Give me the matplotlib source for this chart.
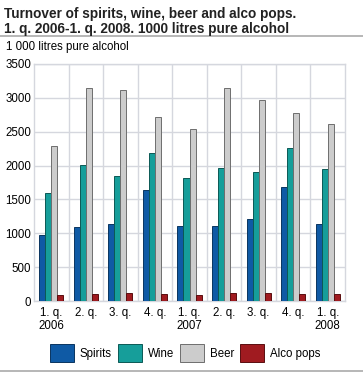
import numpy as np
import matplotlib
matplotlib.use("Agg")
import matplotlib.pyplot as plt
from matplotlib.lines import Line2D

plt.rcParams['font.family'] = ['Liberation Sans', 'DejaVu Sans']

quarters = ["1. q.\n2006", "2. q.", "3. q.", "4. q.", "1. q.\n2007",
            "2. q.", "3. q.", "4. q.", "1. q.\n2008"]
spirits = [980, 1100, 1140, 1640, 1110, 1110, 1210, 1690, 1130]
wine = [1600, 2010, 1840, 2190, 1810, 1970, 1910, 2260, 1950]
beer = [2290, 3150, 3110, 2710, 2540, 3140, 2970, 2770, 2610]
alcopops = [85, 110, 120, 100, 90, 125, 125, 105, 100]
series_names = ["Spirits", "Wine", "Beer", "Alco pops"]

colors = ["#0f5aa5", "#169e9a", "#cccccc", "#a01b20"]
edges = ["#0a3560", "#0b5955", "#6e6e6e", "#5a0e10"]

fig = plt.figure(figsize=(3.63, 3.73), dpi=100)
W, H = 363, 373
ax = fig.add_axes([34 / W, 1 - 301 / H, 311 / W, 237 / H])

x = np.arange(len(quarters))
bw = 0.175
all_series = [spirits, wine, beer, alcopops]
for i, vals in enumerate(all_series):
    ax.bar(x + (i - 1.5) * bw, vals, bw, color=colors[i], edgecolor=edges[i],
           linewidth=0.7, zorder=3)

ax.set_xlim(-0.5, len(quarters) - 0.5)
ax.set_ylim(0, 3500)
ax.set_yticks(range(0, 3501, 500))
ax.set_xticks(x)
ax.set_xticklabels(quarters, fontsize=8.3, linespacing=1.15)
ax.tick_params(axis="y", labelsize=8.3, length=0, pad=2)
ax.tick_params(axis="x", length=0, pad=4)
for b in np.arange(0.5, len(quarters) - 0.5, 1):
    ax.axvline(b, color="#d5d7de", lw=1, zorder=1)
ax.yaxis.grid(True, color="#d5d7de", lw=1, zorder=1)
for s in ax.spines.values():
    s.set_color("#d5d7de")
    s.set_linewidth(1)

fig.text(4 / W, 1 - 21.5 / H, "Turnover of spirits, wine, beer and alco pops.\n"
         "1. q. 2006-1. q. 2008. 1000 litres pure alcohol",
         fontsize=9.8, fontweight="bold", va="center", ha="left", linespacing=1.15,
         color="#222222")
fig.add_artist(Line2D([0, 1], [1 - 36 / H, 1 - 36 / H], color="#aaaaaa", lw=1.2))
fig.add_artist(Line2D([0, 1], [1 - 371 / H, 1 - 371 / H], color="#aaaaaa", lw=1.2))
fig.text(6 / W, 1 - 47 / H, "1 000 litres pure alcohol", fontsize=8.3, va="center", ha="left")

handles = [plt.Rectangle((0, 0), 1, 1, facecolor=colors[i], edgecolor=edges[i], lw=0.7)
           for i in range(4)]
fig.legend(handles, series_names, loc="center", bbox_to_anchor=(185 / W, 1 - 353 / H),
           ncol=4, frameon=False, fontsize=8.3, handlelength=2.1, handleheight=1.9,
           handletextpad=0.5, columnspacing=0.5)

fig.savefig("out.png", dpi=100)
